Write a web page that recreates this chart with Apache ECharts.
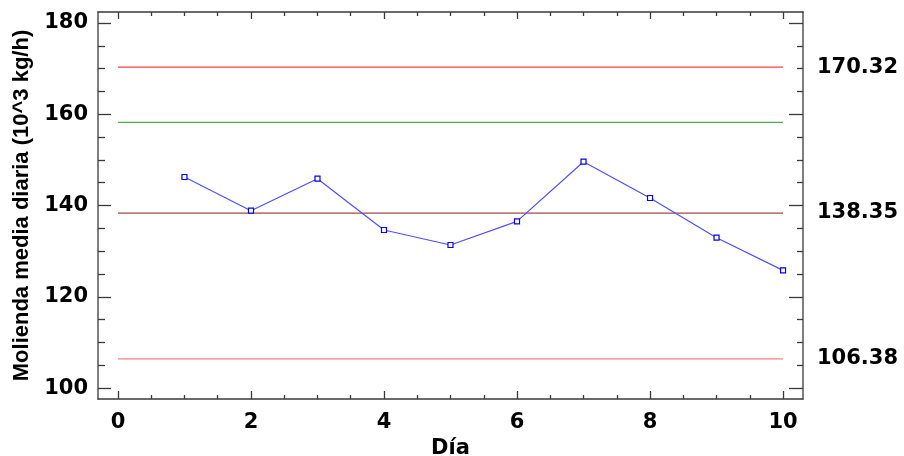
<!DOCTYPE html>
<html>
<head>
<meta charset="utf-8">
<script src="https://cdn.jsdelivr.net/npm/echarts@6/dist/echarts.min.js"></script>
<style>
  html, body { margin: 0; padding: 0; background: #fff; }
  #chart { width: 904px; height: 456px; }
</style>
</head>
<body>
<div id="chart"></div>
<script>
// Daily mean milling rate (10^3 kg/h) per day with control limits
const days = [1, 2, 3, 4, 5, 6, 7, 8, 9, 10];
const molienda = [146.25, 138.86, 145.87, 134.63, 131.34, 136.52, 149.6, 141.64, 132.94, 125.78];

const limitUpper = 170.32;
const limitCenter = 138.35;
const limitLower = 106.38;
const limitWarning = 158.2;

const yTickLabels = [100, 120, 140, 160, 180];
const xTickLabels = [0, 2, 4, 6, 8, 10];
const limitLabels = [limitLower, limitCenter, limitUpper];

const Y_MIN = 97.6, Y_MAX = 182.4;
const X_MIN = -0.3, X_MAX = 10.3;

// minor tick positions between the labelled ticks
const yMinor = [];
for (let v = 100; v <= 180; v += 5) if (!yTickLabels.includes(v)) yMinor.push(v);
const xMinor = [];
for (let v = 0; v <= 10; v += 0.5) if (!xTickLabels.includes(v)) xMinor.push(v);

const FONT = '"DejaVu Sans", sans-serif';
const AXIS_COLOR = '#3a3a3a';

function axisBase(extra, opts) {
  const base = Object.assign({
    type: 'value', offset: 0,
    splitLine: { show: false },
    axisLabel: { show: false },
    axisTick: { show: false }
  }, extra, opts);
  base.axisLine = Object.assign({ show: false }, opts.axisLine || {}, { onZero: false });
  return base;
}
const xAx = (position, opts) => axisBase({ min: X_MIN, max: X_MAX, position: position }, opts);
const yAx = (position, opts) => axisBase({ min: Y_MIN, max: Y_MAX, position: position }, opts);

const pairs = days.map((d, i) => [d, molienda[i]]);
const span = v => [[xTickLabels[0], v], [xTickLabels[xTickLabels.length - 1], v]];

function limitSeries(value, color) {
  return {
    type: 'line', xAxisIndex: 0, yAxisIndex: 0,
    data: span(value), symbol: 'none', silent: true,
    lineStyle: { color: color, width: 1.3 }, z: 2
  };
}

const tickStyle = { color: AXIS_COLOR, width: 1.3 };
const labelFont = { fontFamily: FONT, fontWeight: 'bold', fontSize: 21, color: '#000' };

const option = {
  animation: false,
  backgroundColor: '#fff',
  grid: { left: 98, right: 101, top: 12, height: 387, containLabel: false, outerBoundsMode: 'none' },
  xAxis: [
    xAx('bottom', {
      name: 'Día', nameLocation: 'middle', nameGap: 32,
      nameTextStyle: labelFont,
      axisLine: { show: true, lineStyle: { color: AXIS_COLOR, width: 1.5 } },
      axisLabel: Object.assign({ show: true, customValues: xTickLabels, margin: 13 }, labelFont),
      axisTick: { show: true, inside: true, length: 8, customValues: xTickLabels, lineStyle: tickStyle }
    }),
    xAx('bottom', {
      axisTick: { show: true, inside: true, length: 4, customValues: xMinor, lineStyle: tickStyle }
    }),
    xAx('top', {
      axisLine: { show: true, lineStyle: { color: AXIS_COLOR, width: 1.5 } },
      axisTick: { show: true, inside: true, length: 7, customValues: xTickLabels, lineStyle: tickStyle }
    }),
    xAx('top', {
      axisTick: { show: true, inside: true, length: 4, customValues: xMinor, lineStyle: tickStyle }
    })
  ],
  yAxis: [
    yAx('left', {
      name: 'Molienda media diaria (10^3 kg/h)', nameLocation: 'middle', nameGap: 65,
      nameRotate: 90,
      nameTextStyle: { fontFamily: '"Liberation Sans", Arial, sans-serif', fontWeight: 'bold', fontSize: 22, color: '#000' },
      axisLine: { show: true, lineStyle: { color: '#555', width: 1.5 } },
      axisLabel: Object.assign({ show: true, customValues: yTickLabels, margin: 10 }, labelFont),
      axisTick: { show: true, inside: true, length: 13, customValues: yTickLabels, lineStyle: tickStyle }
    }),
    yAx('left', {
      axisTick: { show: true, inside: true, length: 7, customValues: yMinor, lineStyle: tickStyle }
    }),
    yAx('right', {
      axisLine: { show: true, lineStyle: { color: '#555', width: 1.5 } },
      axisLabel: Object.assign({ show: true, customValues: limitLabels, margin: 14,
        formatter: v => v.toFixed(2) }, labelFont),
      axisTick: { show: true, inside: true, length: 14, customValues: yTickLabels, lineStyle: tickStyle }
    }),
    yAx('right', {
      axisTick: { show: true, inside: true, length: 6, customValues: yMinor, lineStyle: tickStyle }
    })
  ],
  series: [
    limitSeries(limitUpper, '#ff4040'),
    limitSeries(limitWarning, '#4cb34c'),
    limitSeries(limitCenter, '#a04848'),
    limitSeries(limitLower, '#ff8080'),
    {
      type: 'line', xAxisIndex: 0, yAxisIndex: 0,
      data: pairs,
      symbol: 'rect', symbolSize: 5,
      lineStyle: { color: '#5050ff', width: 1.2 },
      itemStyle: { color: '#ffffff', borderColor: '#0000ee', borderWidth: 1.2 },
      z: 5
    }
  ]
};

echarts.init(document.getElementById('chart'), null, { renderer: 'canvas' }).setOption(option);
</script>
</body>
</html>
